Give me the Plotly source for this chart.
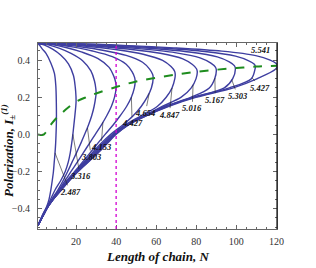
import plotly.graph_objects as go

# ---------------- data ----------------
labels = ["2.487", "3.316", "3.803", "4.153", "4.427", "4.654",
          "4.847", "5.016", "5.167", "5.303", "5.427", "5.541"]

c1_N = [1, 1.8, 3, 5, 7.5, 9.2, 9.9, 10.15, 10.2, 10.15, 10.0, 9.8, 9.5, 9.1, 8.7, 8.1, 7.4, 6.5, 5.3, 3.0, 1.8, 1]
c1_I = [0.49, 0.48, 0.462, 0.436, 0.382, 0.328, 0.26, 0.17, 0.085, 0.05, 0.0, -0.05, -0.1, -0.15, -0.2, -0.25, -0.3, -0.35, -0.39, -0.44, -0.47, -0.49]

c2_N = [1, 4.3, 8.3, 12.3, 16.2, 18.7, 19.6, 19.95, 20, 19.85, 19.4, 18.9, 18.4, 17.8, 17.1, 16.1, 14.6, 12.3, 9.5, 7.3, 5.5, 3.1, 1.85, 1]
c2_I = [0.49, 0.4806, 0.4585, 0.427, 0.38, 0.317, 0.254, 0.2065, 0.175, 0.15, 0.1, 0.05, 0.0, -0.05, -0.1, -0.15, -0.2, -0.25, -0.3, -0.35, -0.39, -0.44, -0.47, -0.49]

c3_N = [1, 6.2, 11.8, 17.5, 23.4, 27.4, 29.2, 29.85, 30, 29.8, 29, 27.8, 26.2, 24.3, 22.3, 20.2, 18, 15.8, 13.5, 10.9, 7.9, 5.7, 3.25, 1.92, 1]
c3_I = [0.49, 0.482, 0.463, 0.436, 0.3955, 0.3415, 0.2875, 0.247, 0.22, 0.2, 0.15, 0.1, 0.05, 0.0, -0.05, -0.1, -0.15, -0.2, -0.25, -0.3, -0.35, -0.39, -0.44, -0.47, -0.49]

c4_N = [1, 8, 15.4, 23, 31, 36.5, 38.8, 39.8, 40, 39.2, 37.6, 35.3, 32.6, 29.6, 26.6, 23.6, 20.6, 17.5, 14.5, 11.4, 8.2, 5.8, 3.3, 1.94, 1]
c4_I = [0.49, 0.483, 0.4665, 0.443, 0.4078, 0.3608, 0.3138, 0.2785, 0.255, 0.2, 0.15, 0.1, 0.05, 0.0, -0.05, -0.1, -0.15, -0.2, -0.25, -0.3, -0.35, -0.39, -0.44, -0.47, -0.49]

c5_N = [1, 9.9, 18.8, 28.2, 38.1, 45, 48, 49.25, 49.5, 49.1, 47.6, 45.2, 42, 38.5, 34.5, 30.7, 27, 23.2, 19.3, 15.3, 11.8, 8.3, 5.85, 3.35, 1.95, 1]
c5_I = [0.49, 0.4839, 0.4695, 0.449, 0.4183, 0.3773, 0.3363, 0.3055, 0.285, 0.25, 0.2, 0.15, 0.1, 0.05, 0.0, -0.05, -0.1, -0.15, -0.2, -0.25, -0.3, -0.35, -0.39, -0.44, -0.47, -0.49]

c6_N = [1, 11.7, 22.2, 33.3, 45, 53.2, 56.7, 58.2, 58.5, 57.6, 55.5, 52.5, 48.5, 43.3, 37.3, 32.4, 28, 23.9, 19.7, 15.6, 12.0, 8.4, 5.88, 3.38, 1.96, 1]
c6_I = [0.49, 0.4845, 0.4715, 0.453, 0.4253, 0.3883, 0.3513, 0.3235, 0.305, 0.25, 0.2, 0.15, 0.1, 0.05, 0.0, -0.05, -0.1, -0.15, -0.2, -0.25, -0.3, -0.35, -0.39, -0.44, -0.47, -0.49]

c7_N = [1, 13.9, 26.4, 39.6, 53.5, 63.2, 67.4, 69.2, 69.5, 69.3, 67.9, 65, 60.5, 52.5, 44.3, 38.2, 33.3, 28.7, 24.4, 20.1, 15.9, 12.2, 8.45, 5.9, 3.4, 1.97, 1]
c7_I = [0.49, 0.485, 0.4733, 0.4566, 0.4316, 0.3982, 0.3648, 0.3397, 0.323, 0.3, 0.25, 0.2, 0.15, 0.1, 0.05, 0.0, -0.05, -0.1, -0.15, -0.2, -0.25, -0.3, -0.35, -0.39, -0.44, -0.47, -0.49]

c8_N = [1, 16.1, 30.6, 45.9, 62, 73.3, 78.1, 80.1, 80.5, 79.9, 77.5, 72.5, 63, 53.8, 44.8, 38.8, 33.9, 29.3, 24.9, 20.4, 16.1, 12.3, 8.5, 5.93, 3.42, 1.98, 1]
c8_I = [0.49, 0.4854, 0.4748, 0.4596, 0.4368, 0.4064, 0.376, 0.3532, 0.338, 0.3, 0.25, 0.2, 0.15, 0.1, 0.05, 0.0, -0.05, -0.1, -0.15, -0.2, -0.25, -0.3, -0.35, -0.39, -0.44, -0.47, -0.49]

c9_N = [1, 18, 34.2, 51.3, 69.3, 81.9, 87.3, 89.55, 90, 89.2, 86.5, 77.5, 64.2, 54.3, 45.2, 39.2, 34.3, 29.8, 25.3, 20.6, 16.3, 12.4, 8.55, 5.95, 3.45, 1.99, 1]
c9_I = [0.49, 0.4857, 0.4758, 0.4616, 0.4403, 0.4119, 0.3835, 0.3622, 0.348, 0.3, 0.25, 0.2, 0.15, 0.1, 0.05, 0.0, -0.05, -0.1, -0.15, -0.2, -0.25, -0.3, -0.35, -0.39, -0.44, -0.47, -0.49]

c10_N = [1, 19.9, 37.8, 56.7, 76.6, 90.5, 96.5, 99, 99.5, 98.2, 94, 78.5, 65, 54.6, 45.5, 39.5, 34.8, 30.3, 25.6, 20.8, 16.45, 12.5, 8.58, 5.97, 3.47, 1.99, 1]
c10_I = [0.49, 0.486, 0.4767, 0.4634, 0.4435, 0.4169, 0.3903, 0.3703, 0.357, 0.3, 0.25, 0.2, 0.15, 0.1, 0.05, 0.0, -0.05, -0.1, -0.15, -0.2, -0.25, -0.3, -0.35, -0.39, -0.44, -0.47, -0.49]

c11_N = [1, 21.9, 41.6, 62.4, 84.3, 99.6, 106.2, 109, 109.5, 109.3, 107.5, 96.5, 79.3, 65.5, 54.8, 45.8, 39.8, 35.2, 30.7, 25.8, 20.9, 16.5, 12.55, 8.59, 5.98, 3.48, 2.0, 1]
c11_I = [0.49, 0.4863, 0.4775, 0.465, 0.4463, 0.4213, 0.3963, 0.3775, 0.365, 0.35, 0.3, 0.25, 0.2, 0.15, 0.1, 0.05, 0.0, -0.05, -0.1, -0.15, -0.2, -0.25, -0.3, -0.35, -0.39, -0.44, -0.47, -0.49]

c12_N = [1, 24.1, 45.8, 68.7, 92.8, 109.7, 116.9, 119.9, 120.5, 119.5, 110.5, 98.5, 80.2, 66, 55, 46, 40, 35.5, 31, 26, 21, 16.6, 12.6, 8.6, 6, 3.5, 2, 1]
c12_I = [0.49, 0.4864, 0.478, 0.466, 0.448, 0.424, 0.4, 0.382, 0.37, 0.35, 0.3, 0.25, 0.2, 0.15, 0.1, 0.05, 0.0, -0.05, -0.1, -0.15, -0.2, -0.25, -0.3, -0.35, -0.39, -0.44, -0.47, -0.49]

curves_N = [c1_N, c2_N, c3_N, c4_N, c5_N, c6_N, c7_N, c8_N, c9_N, c10_N, c11_N, c12_N]
curves_I = [c1_I, c2_I, c3_I, c4_I, c5_I, c6_I, c7_I, c8_I, c9_I, c10_I, c11_I, c12_I]

green_N = [1, 2, 3, 4, 5, 6, 7, 8, 10, 12, 15, 20, 25, 30, 40, 50, 60, 70, 80, 90, 100, 110, 120.5]
green_I = [0.0, -0.003, -0.004, 0.0, 0.012, 0.028, 0.045, 0.06, 0.085, 0.105, 0.135, 0.175,
           0.2, 0.22, 0.255, 0.285, 0.305, 0.322, 0.337, 0.348, 0.357, 0.365, 0.37]

marker_N = 40

# label text positions and arrow targets (data units)
lab_text_N = [17, 22, 27.5, 32.5, 48, 54.6, 66.6, 78, 89.5, 100.7, 112, 112]
lab_text_I = [-0.31, -0.222, -0.122, -0.07, 0.06, 0.117, 0.106, 0.14, 0.187, 0.207, 0.252, 0.456]
lab_head_N = [9.5, 18.4, 25.7, 33.4, 47.6, 56.5, 67.9, 78.4, 89.3, 97.7, 107.8, 111.5]
lab_head_I = [-0.1, 0.0, 0.035, 0.065, 0.2, 0.22, 0.25, 0.267, 0.303, 0.294, 0.305, 0.418]

x_ticks = [20, 40, 60, 80, 100, 120]
y_ticks = [-0.4, -0.2, 0.0, 0.2, 0.4]

x_title = "<b><i>Length of chain, N</i></b>"
y_title = "<b><i>Polarization, I<sub>±</sub><sup>(1)</sup></i></b>"

# ---------------- figure ----------------
BLUE = "rgb(62,62,160)"
SERIF = "Liberation Serif, Times New Roman, serif"

fig = go.Figure()
for N, I in zip(curves_N, curves_I):
    fig.add_trace(go.Scatter(x=N, y=I, mode="lines",
                             line=dict(color=BLUE, width=1.4, shape="spline", smoothing=0.9),
                             hoverinfo="skip", showlegend=False))

fig.add_trace(go.Scatter(x=green_N, y=green_I, mode="lines",
                         line=dict(color="rgb(30,140,30)", width=2, dash="dash", shape="spline"),
                         hoverinfo="skip", showlegend=False))

fig.add_vline(x=marker_N, line=dict(color="rgb(210,0,210)", width=1.3, dash="dot"))

# darker right frame edge as in the reference
fig.add_shape(type="line", xref="paper", yref="paper", x0=1, x1=1, y0=0, y1=1,
              line=dict(color="#111", width=1.2))

for t, tx, ty, hx, hy in zip(labels, lab_text_N, lab_text_I, lab_head_N, lab_head_I):
    fig.add_annotation(x=hx, y=hy, ax=tx, ay=ty, axref="x", ayref="y", xref="x", yref="y",
                       text="<b><i>" + t + "</i></b>", showarrow=True, arrowhead=0,
                       arrowwidth=0.6, arrowcolor="#222", standoff=0,
                       font=dict(family=SERIF, size=8.5, color="#111"))

fig.add_annotation(x=0.5, y=-0.15, xref="paper", yref="paper", text=x_title, showarrow=False,
                   xanchor="center", yanchor="middle",
                   font=dict(family=SERIF, size=13, color="#111"))
fig.add_annotation(x=-0.125, y=0.42, xref="paper", yref="paper", text=y_title, showarrow=False,
                   textangle=-90, xanchor="center", yanchor="middle",
                   font=dict(family=SERIF, size=13, color="#111"))

axis_common = dict(showline=True, linecolor="#666", linewidth=1, mirror="allticks",
                   ticks="inside", ticklen=4, tickcolor="#666", showgrid=False, zeroline=False,
                   automargin=False,
                   tickfont=dict(family=SERIF, size=10, color="#333"))

fig.update_xaxes(range=[1, 120.3], tickvals=x_ticks, ticklabelstandoff=3,
                 minor=dict(ticks="inside", dtick=5, ticklen=2, tickcolor="#666"),
                 **axis_common)
fig.update_yaxes(range=[-0.51, 0.492], tickvals=y_ticks, tickformat=".1f", ticklabelstandoff=5,
                 minor=dict(ticks="inside", dtick=0.05, ticklen=2, tickcolor="#666"),
                 **axis_common)

fig.update_layout(width=316, height=268, margin=dict(l=38, r=39, t=43, b=39),
                  paper_bgcolor="white", plot_bgcolor="white", showlegend=False)

# remove the default page margin so the figure starts at the window's corner
fig.write_html("out.html", config={"displayModeBar": False},
               post_script="document.body.style.margin='0';")
